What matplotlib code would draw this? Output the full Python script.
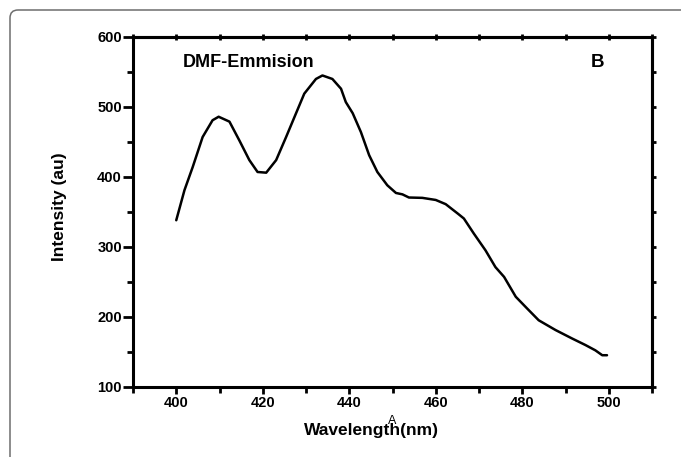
import numpy as np
import matplotlib
matplotlib.use("Agg")
import matplotlib.pyplot as plt
from matplotlib.patches import FancyBboxPatch
from matplotlib.ticker import MultipleLocator

plt.rcParams['font.family'] = ['Liberation Sans', 'DejaVu Sans']

# emission spectrum
wavelength = [400, 401.9, 403.8, 406.1, 408.4, 409.8, 412.3, 414.6, 416.9, 418.8,
              420.8, 423.1, 425.4, 427.7, 429.6, 432.3, 433.8, 436.1, 438.1, 439.2,
              440.8, 442.7, 444.6, 446.5, 448.8, 450.8, 452.3, 453.8, 456.9, 460.0,
              462.3, 465.2, 466.5, 468.8, 471.5, 473.8, 475.8, 478.5, 481.1, 483.8,
              487.7, 491.5, 494.6, 496.9, 498.5, 499.6]
intensity = [338, 381, 414, 457, 481, 486, 479, 452, 424, 407,
             406, 424, 457, 491, 519, 540, 545, 540, 526, 507,
             491, 464, 431, 407, 388, 377, 375, 370.5, 370, 367,
             361, 347, 340.5, 319, 295, 271, 257, 228.6, 212, 195,
             181, 169, 159.6, 152, 145, 145]

x_major = [400, 420, 440, 460, 480, 500]
y_major = [100, 200, 300, 400, 500, 600]

fig = plt.figure(figsize=(6.81, 4.57), dpi=100)

# grey rounded frame, running off the right and bottom edge (inches)
frame = FancyBboxPatch((0.10, -1.0), 8.0, 5.47,
                       boxstyle="round,pad=0,rounding_size=0.08",
                       transform=fig.dpi_scale_trans, facecolor='none',
                       edgecolor='#6e6e6e', linewidth=1.1)
fig.patches.append(frame)

ax = fig.add_axes([133/681, 1 - 386.7/457, 519/681, 349.7/457])
ax.plot(wavelength, intensity, color='black', linewidth=1.8,
        solid_joinstyle='round', solid_capstyle='round')

ax.set_xlim(390, 510)
ax.set_ylim(100, 600)
ax.set_xticks(x_major)
ax.set_yticks(y_major)
ax.xaxis.set_minor_locator(MultipleLocator(10))
ax.yaxis.set_minor_locator(MultipleLocator(50))

for s in ax.spines.values():
    s.set_linewidth(2.2)

ax.tick_params(axis='x', which='major', direction='out', length=5, width=2, pad=2)
ax.tick_params(axis='x', which='minor', direction='out', length=4, width=2)
ax.tick_params(axis='y', which='major', direction='out', length=7, width=2, pad=1)
ax.tick_params(axis='y', which='minor', direction='out', length=4, width=2)
for lab in ax.get_xticklabels() + ax.get_yticklabels():
    lab.set_fontweight('bold')
    lab.set_fontsize(10.5)

# small ticks on the top and right spines
top = ax.secondary_xaxis('top')
top.xaxis.set_major_locator(MultipleLocator(10))
top.tick_params(direction='inout', length=4, width=2, labeltop=False)
top.spines['top'].set_linewidth(2.2)
right = ax.secondary_yaxis('right')
right.yaxis.set_major_locator(MultipleLocator(50))
right.tick_params(direction='out', length=3, width=2, labelright=False)
right.spines['right'].set_linewidth(2.2)

ax.set_xlabel('Wavelength(nm)', fontsize=12.5, fontweight='bold', va='top')
ax.xaxis.set_label_coords(0.4586, -0.103)
ax.set_ylabel('Intensity (au)', fontsize=12.5, fontweight='bold')
ax.yaxis.set_label_coords(-0.127, 0.514)

ax.text(401.4, 564, 'DMF-Emmision', fontsize=13, fontweight='bold',
        ha='left', va='center')
ax.text(497.4, 563, 'B', fontsize=13.5, fontweight='bold', ha='center', va='center')
# stray Angstrom mark sitting on the x label, as in the original
ax.text(0.499, -0.097, 'A', transform=ax.transAxes, fontsize=9,
        ha='center', va='center')

fig.savefig('out.png', dpi=100)
